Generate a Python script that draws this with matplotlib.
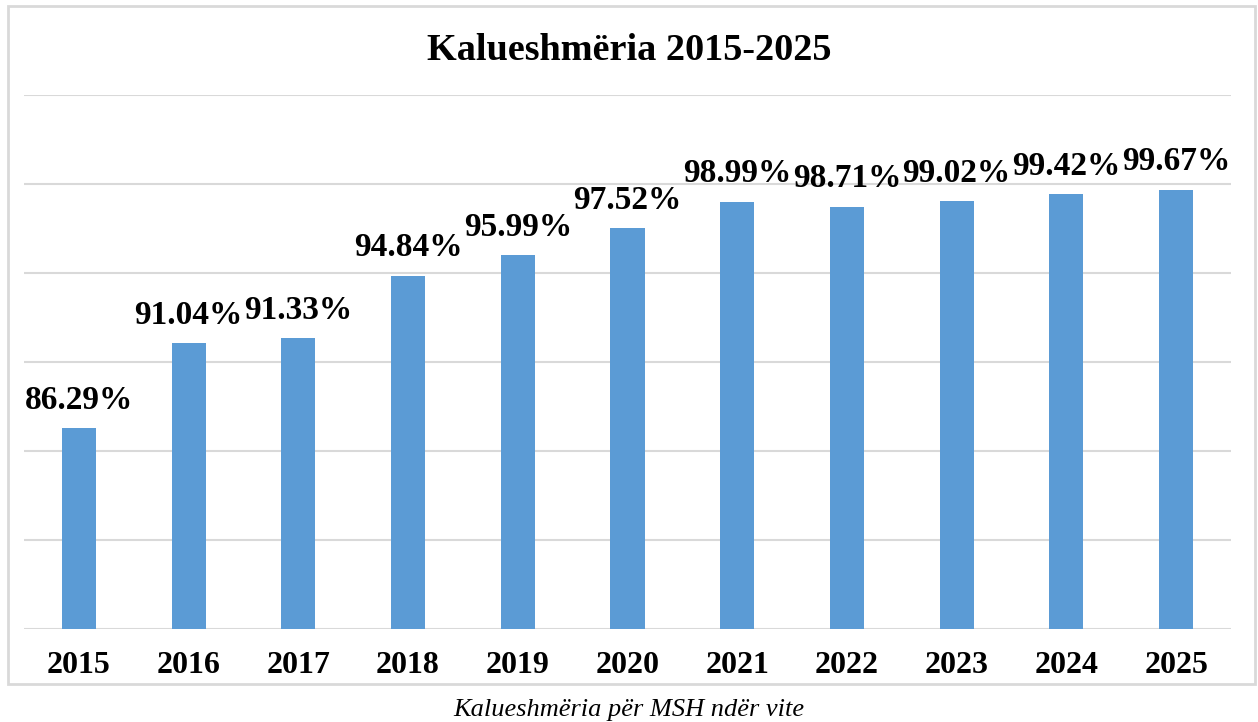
import matplotlib
matplotlib.use('Agg')
import matplotlib.pyplot as plt
from matplotlib.patches import Rectangle
import numpy as np

years = ['2015', '2016', '2017', '2018', '2019', '2020', '2021', '2022', '2023', '2024', '2025']
pass_rate = [86.29, 91.04, 91.33, 94.84, 95.99, 97.52, 98.99, 98.71, 99.02, 99.42, 99.67]

plt.rcParams['font.family'] = ['Liberation Serif', 'DejaVu Serif']

fig = plt.figure(figsize=(12.58, 7.22), dpi=100)
ax = fig.add_axes([24/1258, 93/722, 1207/1258, 534/722])

x = np.arange(len(years))
ax.bar(x, pass_rate, width=0.31, color='#5B9BD5', zorder=3)

ax.set_xlim(-0.5, len(years) - 0.5)
ax.set_ylim(75, 105)
ax.set_yticks(np.arange(75, 106, 5))
ax.set_yticklabels([])
ax.tick_params(axis='y', length=0)
ax.grid(axis='y', color='#D9D9D9', linewidth=1.5, zorder=0)
for s in ax.spines.values():
    s.set_visible(False)

ax.set_xticks(x)
ax.set_xticklabels(years, fontsize=23, fontweight='bold')
ax.tick_params(axis='x', length=0, pad=16)

for xi, v in zip(x, pass_rate):
    ax.annotate('%.2f%%' % v, (xi, v), xytext=(0, 9), textcoords='offset points',
                ha='center', va='bottom', fontsize=24, fontweight='bold')

fig.text(0.5, 1 - 50/722, 'Kalueshmëria 2015-2025', ha='center', va='center',
         fontsize=27.5, fontweight='bold')
fig.text(0.5, 1 - 710/722, 'Kalueshmëria për MSH ndër vite', ha='center', va='center',
         fontsize=19, style='italic')

fig.patches.append(Rectangle((8/1258, 1 - 684/722), 1247/1258, 678/722,
                             transform=fig.transFigure, fill=False,
                             edgecolor='#D9D9D9', linewidth=2))

fig.savefig('out.png', dpi=100)
